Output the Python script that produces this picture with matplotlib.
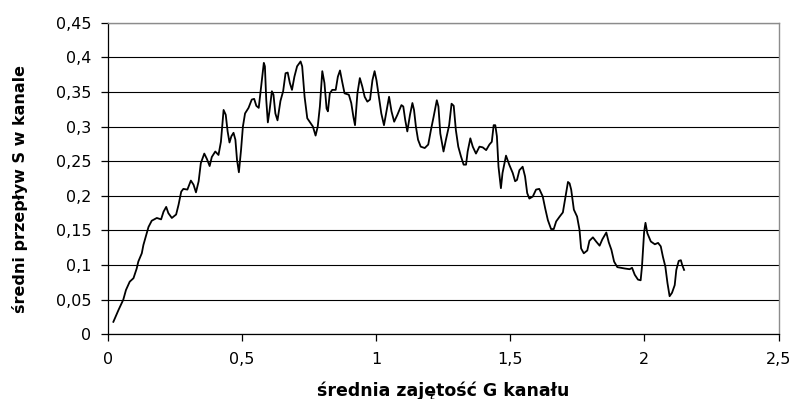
import matplotlib
matplotlib.use("Agg")
import matplotlib.pyplot as plt
from matplotlib.ticker import FuncFormatter

# średnia zajętość G kanału
occupancy = [
    0.020, 0.039, 0.057, 0.067, 0.081, 0.095, 0.107, 0.113, 0.126, 0.132,
    0.142, 0.151, 0.163, 0.182, 0.198, 0.207, 0.217, 0.225, 0.238, 0.254,
    0.263, 0.273, 0.281, 0.296, 0.309, 0.319, 0.328, 0.338, 0.346, 0.359,
    0.369, 0.379, 0.387, 0.400, 0.412, 0.421, 0.431, 0.439, 0.446, 0.453,
    0.460, 0.468, 0.475, 0.481, 0.488, 0.496, 0.503, 0.511, 0.524, 0.536,
    0.545, 0.553, 0.562, 0.571, 0.581, 0.585, 0.590, 0.596, 0.602, 0.611,
    0.617, 0.624, 0.632, 0.643, 0.653, 0.662, 0.670, 0.678, 0.686, 0.695,
    0.705, 0.718, 0.724, 0.733, 0.743, 0.755, 0.764, 0.774, 0.782, 0.790,
    0.799, 0.807, 0.815, 0.820, 0.827, 0.836, 0.849, 0.857, 0.865, 0.873,
    0.882, 0.898, 0.907, 0.915, 0.921, 0.930, 0.939, 0.948, 0.957, 0.967,
    0.977, 0.986, 0.994, 1.001, 1.010, 1.019,
    1.029, 1.048, 1.057, 1.067, 1.079, 1.094, 1.101, 1.108, 1.116, 1.126,
    1.135, 1.141, 1.148, 1.156, 1.166, 1.181, 1.194, 1.204, 1.214, 1.226,
    1.232, 1.239, 1.251, 1.260, 1.272, 1.281, 1.289, 1.297, 1.306, 1.316,
    1.326, 1.335, 1.341, 1.351, 1.360, 1.372, 1.385, 1.397, 1.410, 1.422,
    1.431, 1.438, 1.444, 1.450, 1.456, 1.465, 1.471, 1.484, 1.496, 1.509,
    1.518, 1.525, 1.534, 1.546, 1.555, 1.563, 1.571, 1.584, 1.596, 1.608,
    1.621, 1.630, 1.640, 1.652, 1.662, 1.671, 1.684, 1.696, 1.705, 1.715,
    1.721, 1.727, 1.737, 1.749, 1.758, 1.764, 1.774, 1.787, 1.795, 1.808,
    1.820, 1.833, 1.843, 1.858, 1.867, 1.877, 1.887, 1.899, 1.912, 1.927,
    1.945, 1.954, 1.964, 1.976, 1.986, 1.991, 1.999, 2.004, 2.011, 2.024,
    2.039, 2.051, 2.061, 2.069, 2.078, 2.086, 2.094, 2.103, 2.113, 2.119,
    2.128, 2.136, 2.141, 2.148,
]

# średni przepływ S w kanale
throughput = [
    0.018, 0.035, 0.050, 0.064, 0.076, 0.081, 0.095, 0.105, 0.117, 0.129,
    0.143, 0.155, 0.164, 0.168, 0.166, 0.177, 0.184, 0.175, 0.168, 0.173,
    0.187, 0.206, 0.210, 0.209, 0.222, 0.216, 0.205, 0.221, 0.247, 0.261,
    0.253, 0.243, 0.256, 0.264, 0.259, 0.278, 0.324, 0.317, 0.293, 0.277,
    0.286, 0.291, 0.281, 0.252, 0.234, 0.266, 0.300, 0.319, 0.327, 0.339,
    0.340, 0.330, 0.327, 0.358, 0.392, 0.387, 0.339, 0.306, 0.322, 0.351,
    0.346, 0.319, 0.309, 0.337, 0.351, 0.377, 0.378, 0.363, 0.353, 0.372,
    0.387, 0.394, 0.387, 0.343, 0.312, 0.305, 0.300, 0.287, 0.300, 0.329,
    0.380, 0.363, 0.326, 0.322, 0.348, 0.353, 0.353, 0.372, 0.381, 0.365,
    0.348, 0.346, 0.334, 0.314, 0.302, 0.348, 0.370, 0.358, 0.343, 0.336,
    0.339, 0.367, 0.380, 0.367, 0.343, 0.319,
    0.302, 0.343, 0.322, 0.307, 0.317, 0.331, 0.329, 0.310, 0.293, 0.317,
    0.334, 0.324, 0.300, 0.281, 0.271, 0.269, 0.274, 0.295, 0.314, 0.338,
    0.329, 0.290, 0.264, 0.281, 0.302, 0.333, 0.330, 0.295, 0.271, 0.257,
    0.245, 0.245, 0.264, 0.283, 0.271, 0.261, 0.271, 0.270, 0.266, 0.274,
    0.278, 0.302, 0.302, 0.286, 0.242, 0.211, 0.233, 0.258, 0.245, 0.233,
    0.221, 0.223, 0.237, 0.242, 0.228, 0.204, 0.196, 0.199, 0.209, 0.210,
    0.199, 0.182, 0.165, 0.152, 0.152, 0.163, 0.170, 0.176, 0.197, 0.220,
    0.218, 0.209, 0.180, 0.170, 0.151, 0.124, 0.117, 0.121, 0.135, 0.140,
    0.134, 0.128, 0.137, 0.147, 0.133, 0.122, 0.105, 0.097, 0.096, 0.095,
    0.094, 0.096, 0.086, 0.079, 0.078, 0.098, 0.148, 0.161, 0.146, 0.134,
    0.130, 0.132, 0.127, 0.112, 0.098, 0.074, 0.055, 0.060, 0.071, 0.093,
    0.106, 0.107, 0.100, 0.093,
]

x_ticks = [0, 0.5, 1, 1.5, 2, 2.5]
y_ticks = [0, 0.05, 0.1, 0.15, 0.2, 0.25, 0.3, 0.35, 0.4, 0.45]
x_label = "średnia zajętość G kanału"
y_label = "średni przepływ S w kanale"

W, H = 797, 399
fig = plt.figure(figsize=(W / 100, H / 100), dpi=100)
fig.patch.set_facecolor("white")
ax = fig.add_axes([108 / W, 1 - 334.3 / H, (778.5 - 108) / W, (334.3 - 22.7) / H])

ax.plot(occupancy, throughput, color="black", linewidth=1.3, zorder=3)

ax.set_xlim(0, 2.5)
ax.set_ylim(0, 0.45)
ax.set_xticks(x_ticks)
ax.set_yticks(y_ticks)

fmt = FuncFormatter(lambda v, pos: f"{v:g}".replace(".", ","))
ax.xaxis.set_major_formatter(fmt)
ax.yaxis.set_major_formatter(fmt)

ax.yaxis.grid(True, color="black", linewidth=0.8)
ax.xaxis.grid(False)
ax.set_axisbelow(True)

for side in ("left", "bottom"):
    ax.spines[side].set_color("black")
    ax.spines[side].set_linewidth(0.9)
for side in ("top", "right"):
    ax.spines[side].set_color("#8c8c8c")
    ax.spines[side].set_linewidth(1.0)

ax.tick_params(axis="both", direction="out", length=5, width=0.9, color="black",
               labelsize=11.5, labelcolor="black")
ax.tick_params(axis="y", pad=7)
ax.tick_params(axis="x", pad=8)
for lab in ax.get_xticklabels() + ax.get_yticklabels():
    lab.set_fontfamily("DejaVu Sans")

fig.text(443 / W, 1 - 396 / H, x_label, ha="center", va="baseline",
         fontsize=12.5, fontweight="bold", family="DejaVu Sans")
fig.text(20 / W, 1 - 189 / H, y_label, ha="center", va="center", rotation=90,
         fontsize=11.5, fontweight="bold", family="DejaVu Sans")

fig.savefig("out.png", dpi=100, facecolor="white")
